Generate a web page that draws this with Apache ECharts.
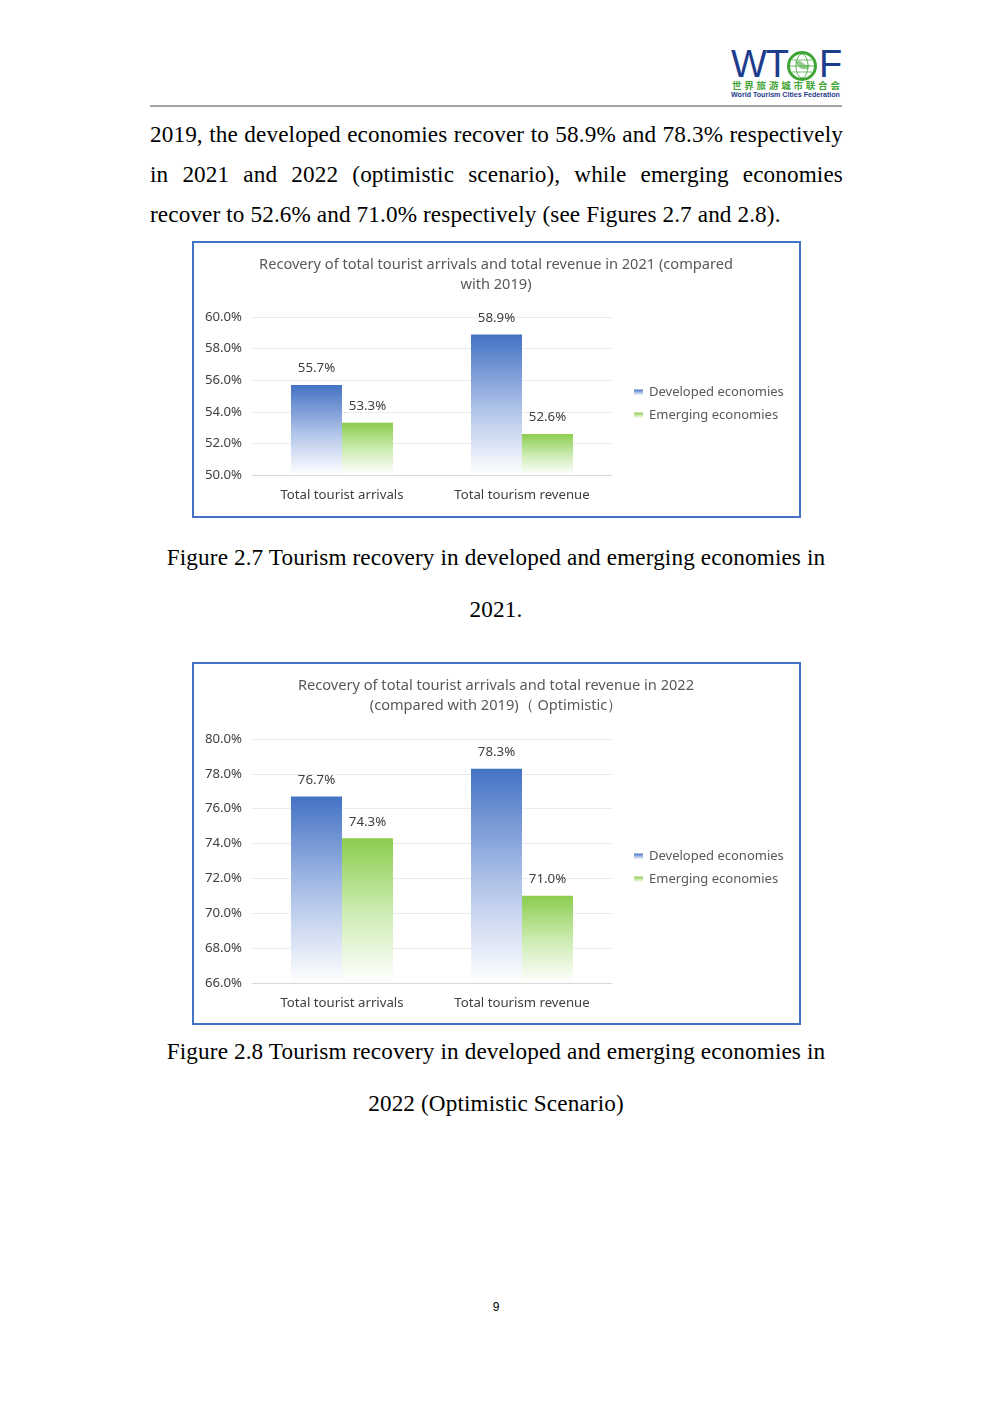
<!DOCTYPE html>
<html>
<head>
<meta charset="utf-8">
<script src="https://cdn.jsdelivr.net/npm/echarts@6/dist/echarts.min.js"></script>
<style>
  html, body { margin: 0; padding: 0; background: #ffffff; }
  body { width: 992px; height: 1403px; position: relative; overflow: hidden; }
  .abs { position: absolute; }
  .serif { font-family: "Liberation Serif", "Times New Roman", serif; color: #000; font-size: 23.2px; letter-spacing: 0.12px; }
  .just { text-align: justify; text-align-last: justify; }
  .frame { position: absolute; border: 2px solid #4472C4; box-sizing: border-box; pointer-events: none; }
</style>
</head>
<body>
<!-- header logo -->
<div class="abs" style="left:731px; top:44px; width:112px; height:56px;">
  <div class="abs" style="left:0; top:0; font-family:'Liberation Sans',Arial,sans-serif; font-size:38px; line-height:40px; color:#1E3C8C; letter-spacing:-1px;">WT</div>
  <svg class="abs" style="left:55px; top:6px;" width="32" height="32" viewBox="0 0 32 32">
    <circle cx="16" cy="16" r="13.5" fill="none" stroke="#3FA535" stroke-width="3"/>
    <ellipse cx="16" cy="16" rx="6" ry="12" fill="none" stroke="#3FA535" stroke-width="0.8"/>
    <line x1="4" y1="16" x2="28" y2="16" stroke="#3FA535" stroke-width="0.8"/>
    <line x1="6" y1="10" x2="26" y2="10" stroke="#3FA535" stroke-width="0.7"/>
    <line x1="6" y1="22" x2="26" y2="22" stroke="#3FA535" stroke-width="0.7"/>
    <path d="M9 12 Q13 9 17 13 T24 14 L22 19 Q17 20 14 18 Z" fill="#3FA535" opacity="0.55"/>
  </svg>
  <div class="abs" style="left:88px; top:0; font-family:'Liberation Sans',Arial,sans-serif; font-size:38px; line-height:40px; color:#1E3C8C;">F</div>
  <div class="abs" style="left:1px; top:36px; width:112px; font-family:'Noto Sans CJK SC',sans-serif; font-weight:bold; font-size:9.5px; line-height:10px; color:#3FA535; letter-spacing:2.8px; white-space:nowrap;">世界旅游城市联合会</div>
  <div class="abs" style="left:0px; top:47px; width:112px; font-family:'Liberation Sans',Arial,sans-serif; font-weight:bold; font-size:7.1px; line-height:8px; color:#1E3C8C; white-space:nowrap;">World Tourism Cities Federation</div>
</div>
<div class="abs" style="left:150px; top:105px; width:692px; height:2px; background:#A6A6A6;"></div>

<!-- body text -->
<div class="abs serif just" style="left:150px; top:120px; width:693px; line-height:28px;">2019, the developed economies recover to 58.9% and 78.3% respectively</div>
<div class="abs serif just" style="left:150px; top:160px; width:693px; line-height:28px;">in 2021 and 2022 (optimistic scenario), while emerging economies</div>
<div class="abs serif" style="left:150px; top:200px; width:693px; line-height:28px;">recover to 52.6% and 71.0% respectively (see Figures 2.7 and 2.8).</div>

<!-- chart 1 -->
<div id="c1" class="abs" style="left:192px; top:241px; width:608px; height:276px;"></div>
<div class="frame" style="left:192px; top:241px; width:609px; height:277px;"></div>
<div class="abs serif" style="left:0; top:543px; width:992px; text-align:center; line-height:28px;">Figure 2.7 Tourism recovery in developed and emerging economies in</div>
<div class="abs serif" style="left:0; top:595px; width:992px; text-align:center; line-height:28px;">2021.</div>

<!-- chart 2 -->
<div id="c2" class="abs" style="left:192px; top:662px; width:608px; height:362px;"></div>
<div class="frame" style="left:192px; top:662px; width:609px; height:363px;"></div>
<div class="abs serif" style="left:0; top:1037px; width:992px; text-align:center; line-height:28px;">Figure 2.8 Tourism recovery in developed and emerging economies in</div>
<div class="abs serif" style="left:0; top:1089px; width:992px; text-align:center; line-height:28px;">2022 (Optimistic Scenario)</div>

<div class="abs" style="left:0; top:1299px; width:992px; text-align:center; font-family:'Liberation Sans',Arial,sans-serif; font-size:12px; line-height:16px; color:#000;">9</div>

<script>
// ---------- data ----------
const categories = ['Total tourist arrivals', 'Total tourism revenue'];
const seriesNames = ['Developed economies', 'Emerging economies'];
const developed2021 = [55.7, 58.9];
const emerging2021 = [53.3, 52.6];
const developed2022 = [76.7, 78.3];
const emerging2022 = [74.3, 71.0];
const title2021 = 'Recovery of total tourist arrivals and total revenue in 2021 (compared\nwith 2019)';
const title2022 = 'Recovery of total tourist arrivals and total revenue in 2022\n(compared with 2019)（ Optimistic）';
const axis2021 = { min: 50, max: 60, interval: 2 };
const axis2022 = { min: 66, max: 80, interval: 2 };

const FONT = '"Noto Sans", "Open Sans", sans-serif';
const blueGrad = new echarts.graphic.LinearGradient(0, 0, 0, 1, [
  { offset: 0, color: '#4472C4' },
  { offset: 0.5, color: '#A9BEE6' },
  { offset: 1, color: 'rgba(255,255,255,0.95)' }
]);
const greenGrad = new echarts.graphic.LinearGradient(0, 0, 0, 1, [
  { offset: 0, color: '#8CCD4F' },
  { offset: 0.5, color: '#CBEBB0' },
  { offset: 1, color: 'rgba(255,255,255,0.95)' }
]);

function makeOption(title, dev, emg, ax, gridTop, gridBottom, legendTop) {
  const labelCfg = {
    show: true, position: 'top', distance: 10,
    formatter: p => p.value.toFixed(1) + '%',
    color: '#404040', fontSize: 13.3, fontFamily: FONT
  };
  return {
    backgroundColor: '#ffffff',
    animation: false,
    title: {
      text: title, left: 'center', top: 9,
      textStyle: { color: '#595959', fontSize: 14.6, fontWeight: 'normal', fontFamily: FONT, lineHeight: 20 }
    },
    legend: {
      orient: 'vertical', left: 437, top: legendTop,
      itemWidth: 9, itemHeight: 6, itemGap: 10,
      icon: 'rect',
      textStyle: { color: '#595959', fontSize: 13, fontFamily: FONT, padding: [0, 0, 0, 1] },
      data: seriesNames
    },
    grid: { left: 60, right: 188, top: gridTop, bottom: gridBottom, containLabel: false },
    xAxis: {
      type: 'category', data: categories,
      axisLine: { lineStyle: { color: '#D9D9D9' } },
      axisTick: { show: false },
      axisLabel: { color: '#404040', fontSize: 13.2, fontFamily: FONT, margin: 14 },
      splitLine: { show: false }
    },
    yAxis: {
      type: 'value', min: ax.min, max: ax.max, interval: ax.interval,
      axisLine: { show: false }, axisTick: { show: false },
      axisLabel: { color: '#404040', fontSize: 13.2, fontFamily: FONT, margin: 10, formatter: v => v.toFixed(1) + '%' },
      splitLine: { lineStyle: { color: '#ECECEC' } }
    },
    series: [
      { name: seriesNames[0], type: 'bar', data: dev, barWidth: 51, barGap: '0%',
        itemStyle: { color: blueGrad }, label: labelCfg },
      { name: seriesNames[1], type: 'bar', data: emg, barWidth: 51, barGap: '0%',
        itemStyle: { color: greenGrad }, label: labelCfg }
    ]
  };
}

const c1 = echarts.init(document.getElementById('c1'), null, { renderer: 'canvas' });
c1.setOption(makeOption(title2021, developed2021, emerging2021, axis2021, 76, 42, 140));
const c2 = echarts.init(document.getElementById('c2'), null, { renderer: 'canvas' });
c2.setOption(makeOption(title2022, developed2022, emerging2022, axis2022, 77, 41, 183));
</script>
</body>
</html>
